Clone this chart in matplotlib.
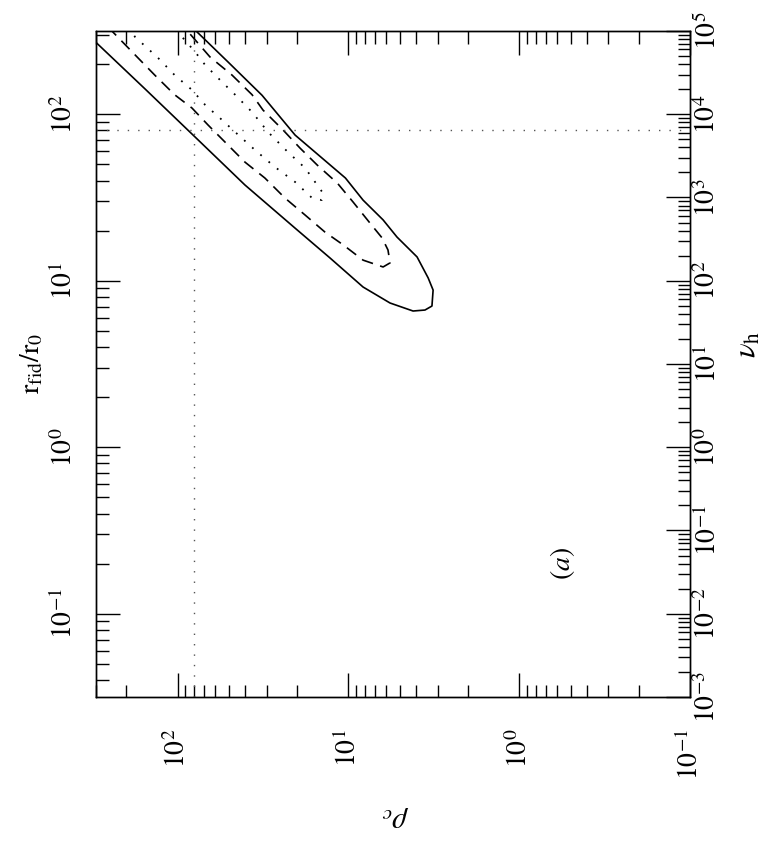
import numpy as np
import matplotlib
matplotlib.use("Agg")
import matplotlib.pyplot as plt
from matplotlib.ticker import LogLocator, NullFormatter, FixedLocator

plt.rcParams["font.family"] = "serif"
plt.rcParams["font.serif"] = ["Liberation Serif", "DejaVu Serif"]
plt.rcParams["mathtext.fontset"] = "stix"

# --- contour data (rho_c, r_fid/r_0) --- #
rho_outer = [348, 155, 78.9, 40.3, 20.5, 12.8, 8.20, 5.70, 4.18, 3.56, 3.24,
             3.19, 3.41, 3.96, 5.19, 6.26, 8.20, 10.4, 20.5, 32.0, 50.6, 84.5]
r_outer = [312, 142, 73.0, 37.6, 20.7, 13.7, 9.17, 7.35, 6.58, 6.67, 7.05,
           8.79, 10.4, 13.9, 18.3, 23.2, 30.5, 41.4, 75.0, 130, 206, 343]

rho_mid = [255, 177, 136, 104, 82.3, 66.2, 40.3, 30.8, 23.5, 17.9, 13.7, 10.7,
           8.20, 6.26, 5.70, 5.86, 6.35, 7.47, 9.38, 11.6, 15.2, 19.2, 24.1,
           31.6, 36.6, 48.0, 64.6, 91.6]
r_mid = [334, 227, 172, 131, 109, 86.1, 51.6, 41.4, 31.4, 24.8, 19.6, 16.4,
         13.3, 12.1, 12.8, 15.3, 18.1, 22.2, 29.7, 38.6, 49.5, 62.7, 80.4,
         106, 131, 172, 221, 334]

rho_inner = [195, 177, 130, 104, 82.3, 69.0, 54.8, 46.0, 35.2, 26.9, 20.5,
             16.3, 14.3, 14.1, 17.9, 22.6, 29.5, 36.6, 46.0, 54.8, 69.0, 78.9,
             92.9, 108]
r_inner = [334, 291, 218, 172, 140, 114, 92.3, 78.2, 61.0, 48.2, 39.2, 31.4,
           30.5, 33.7, 47.5, 59.3, 78.2, 103, 131, 156, 198, 237, 287, 334]

# fiducial values marked with dotted lines
rho_fid = 80
r_fid = 80

# --- axis ranges / ticks --- #
rho_lim = (300, 0.1)
r_lim = (10**-1.5, 10**2.5)
nu_lim = (1e-3, 1e5)

rho_ticks = [100, 10, 1, 0.1]
rho_labels = [r"$10^{2}$", r"$10^{1}$", r"$10^{0}$", r"$10^{-1}$"]
r_ticks = [100, 10, 1, 0.1]
r_labels = [r"$10^{2}$", r"$10^{1}$", r"$10^{0}$", r"$10^{-1}$"]
nu_ticks = [1e-3, 1e-2, 1e-1, 1e0, 1e1, 1e2, 1e3, 1e4, 1e5]
nu_labels = [r"$10^{-3}$", r"$10^{-2}$", r"$10^{-1}$", r"$10^{0}$",
             r"$10^{1}$", r"$10^{2}$", r"$10^{3}$", r"$10^{4}$", r"$10^{5}$"]

FS = 20

fig = plt.figure(figsize=(7.84, 8.44), dpi=100)
ax = fig.add_axes([96/784, 1 - 697/844, 594/784, 666/844])

ax.plot(rho_outer, r_outer, color="black", lw=1.2, solid_joinstyle="round")
ax.plot(rho_mid, r_mid, color="black", lw=1.2, linestyle=(0, (7, 4.5)))
ax.plot(rho_inner, r_inner, color="black", lw=1.3, linestyle=(0, (1, 5)))

ax.axvline(rho_fid, color="#555555", lw=1.0, linestyle=(0, (1, 6.5)))
ax.axhline(r_fid, color="#555555", lw=1.0, linestyle=(0, (1, 6.5)))

ax.set_xscale("log")
ax.set_yscale("log")
ax.set_xlim(*rho_lim)
ax.set_ylim(*r_lim)

# rho_c along bottom (labels) and top (ticks only)
ax.xaxis.set_major_locator(FixedLocator(rho_ticks))
ax.set_xticklabels(rho_labels, rotation=90, fontsize=FS)
ax.xaxis.set_minor_locator(LogLocator(base=10, subs=np.arange(2, 10), numticks=20))
ax.xaxis.set_minor_formatter(NullFormatter())

ax.yaxis.set_major_locator(FixedLocator(r_ticks))
ax.set_yticklabels(r_labels, rotation=90, fontsize=FS, va="center")
ax.yaxis.set_minor_locator(LogLocator(base=10, subs=np.arange(2, 10), numticks=20))
ax.yaxis.set_minor_formatter(NullFormatter())

ax.tick_params(which="both", direction="in", top=True, bottom=True,
               left=True, right=False, width=1.0)
ax.tick_params(which="major", length=17)
ax.tick_params(which="minor", length=9)
ax.tick_params(axis="x", which="major", pad=23)
ax.tick_params(axis="y", which="major", pad=13)

# nu_h on the right side
ax2 = ax.twinx()
ax2.set_yscale("log")
ax2.set_ylim(*nu_lim)
ax2.yaxis.set_major_locator(FixedLocator(nu_ticks))
ax2.set_yticklabels(nu_labels, rotation=90, fontsize=FS, va="center")
ax2.yaxis.set_minor_locator(LogLocator(base=10, subs=np.arange(2, 10), numticks=20))
ax2.yaxis.set_minor_formatter(NullFormatter())
ax2.tick_params(which="both", direction="in", width=1.0)
ax2.tick_params(which="major", length=17, pad=3)
ax2.tick_params(which="minor", length=9)

for a in (ax, ax2):
    for s in a.spines.values():
        s.set_linewidth(1.0)

# axis titles
fig.text(32/784, 1 - 363/844, r"$\mathrm{r_{fid}/r_0}$", rotation=90,
         fontsize=FS, ha="center", va="center")
fig.text(748/784, 1 - 345/844, r"$\nu_\mathrm{h}$", rotation=90,
         fontsize=FS + 2, ha="center", va="center")
fig.text(395/784, 1 - 818/844, r"$\rho_c$", rotation=180,
         fontsize=FS + 2, ha="center", va="center")

ax.text(0.785, 0.201, r"$(a)$", transform=ax.transAxes, rotation=90,
        fontsize=FS, ha="center", va="center")

fig.savefig("out.png", dpi=100)
